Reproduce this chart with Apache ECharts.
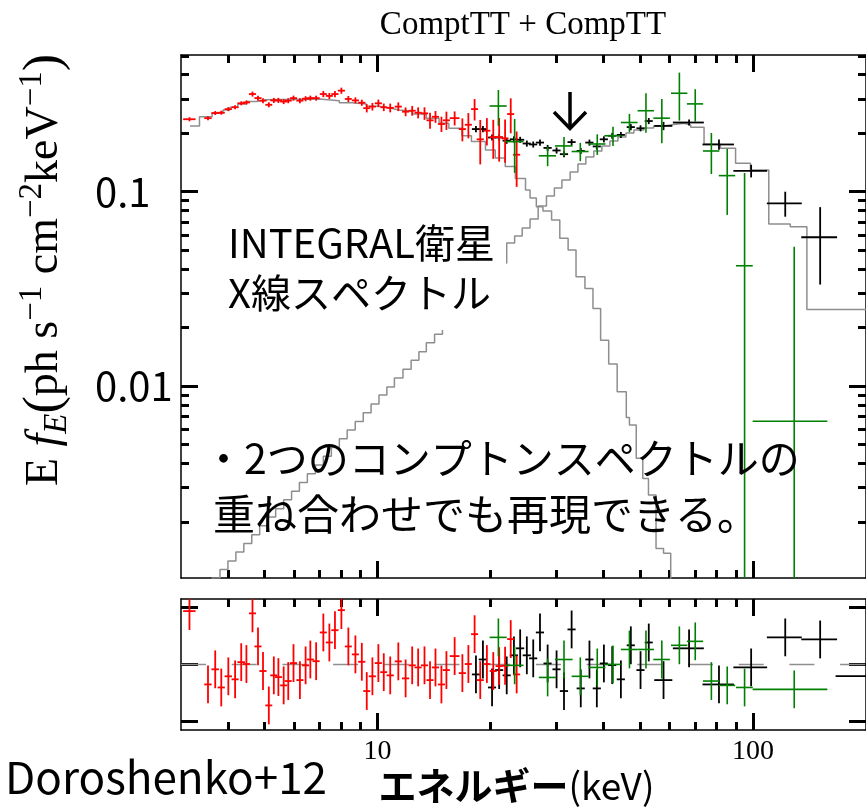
<!DOCTYPE html>
<html>
<head>
<meta charset="utf-8">
<script src="https://cdn.jsdelivr.net/npm/echarts@6/dist/echarts.min.js"></script>
<style>
  html, body { margin: 0; padding: 0; background: #fff; }
  #chart { width: 866px; height: 808px; }
</style>
</head>
<body>
<div id="chart"></div>
<script>
// ---- INTEGRAL spectrum: JEM-X (red), ISGRI (black), SPI (green) ----
// energy (keV), half bin width (keV), E f_E (ph s^-1 cm^-2 keV^-1), 1-sigma error, residual (sigma)
const jemxEnergy = [3.16,3.54,3.70,3.84,4.01,4.18,4.34,4.48,4.65,4.81,4.96,5.14,5.30,5.45,5.63,5.79,5.98,6.22,6.44,6.63,6.87,7.18,7.45,7.71,8.02,8.37,8.74,9.09,9.37,9.70,10.06,10.40,10.82,11.37,11.89,12.38,12.84,13.35,13.81,14.28,14.81,15.27,16.06,16.84,17.47,18.15,18.79,19.57,20.35,21.10,21.88,22.65,23.49];
const jemxHalfWidth = [0.12,0.08,0.085,0.085,0.09,0.09,0.1,0.1,0.1,0.105,0.11,0.11,0.115,0.12,0.12,0.125,0.13,0.135,0.14,0.145,0.15,0.155,0.16,0.17,0.175,0.18,0.19,0.2,0.2,0.21,0.22,0.22,0.24,0.25,0.26,0.27,0.28,0.29,0.3,0.31,0.32,0.33,0.48,0.37,0.38,0.39,0.41,0.42,0.44,0.46,0.47,0.49,0.51];
const jemxFlux = [0.236,0.239,0.254,0.255,0.266,0.272,0.285,0.288,0.318,0.303,0.294,0.280,0.295,0.295,0.291,0.294,0.303,0.294,0.301,0.303,0.303,0.318,0.311,0.318,0.331,0.300,0.295,0.287,0.269,0.274,0.285,0.272,0.270,0.274,0.258,0.261,0.255,0.253,0.233,0.243,0.223,0.233,0.239,0.210,0.221,0.266,0.186,0.206,0.191,0.191,0.188,0.251,0.155];
const jemxError = [0.0057,0.0057,0.006,0.006,0.0064,0.0065,0.0068,0.0069,0.0095,0.009,0.0088,0.0084,0.0089,0.0089,0.0087,0.0088,0.0091,0.0088,0.009,0.009,0.009,0.0115,0.0112,0.0115,0.012,0.0108,0.0106,0.0103,0.0132,0.0123,0.0128,0.0122,0.014,0.0142,0.0134,0.0149,0.0166,0.0187,0.0221,0.017,0.0201,0.0252,0.0198,0.0284,0.0329,0.0335,0.0478,0.033,0.0434,0.0482,0.047,0.0512,0.0491];
const jemxResidual = [2.82,-1.06,-0.26,-1.22,-0.63,-0.79,0.12,0.02,2.70,0.95,-0.35,-2.17,-0.58,-0.67,-1.11,-0.88,0.07,-0.83,-0.05,0.26,0.17,1.69,1.16,1.81,2.87,0.95,0.53,0.14,-1.41,-0.63,0.07,-0.41,-0.58,0.16,-0.74,-0.05,-0.16,-0.05,-0.83,-0.16,-1.06,-0.30,0.44,-0.46,0.02,1.60,-0.83,0.02,-0.35,-0.09,-0.07,1.34,-0.53];

const isgriEnergy = [18.3,19.1,20.2,21.1,22.1,23.1,24.0,25.0,26.0,27.1,28.4,30.0,31.4,32.9,34.8,36.7,38.4,40.1,42.2,44.5,47.3,50.2,52.8,57.8,67.6,81.2,98.9,121.9,151.0,202];
const isgriHalfWidth = [0.45,0.48,0.5,0.53,0.55,0.58,0.6,0.63,0.65,0.68,0.71,0.75,0.79,0.82,0.87,0.92,0.96,1.0,1.06,1.11,1.18,1.25,1.3,3.2,6.4,7.8,10.2,13,16.5,36];
const isgriFlux = [0.210,0.210,0.190,0.190,0.183,0.186,0.185,0.177,0.175,0.179,0.168,0.163,0.156,0.180,0.162,0.179,0.171,0.186,0.194,0.196,0.215,0.212,0.231,0.218,0.227,0.175,0.128,0.0872,0.0583,null];
const isgriError = [0.0076,0.0076,0.0068,0.0068,0.0066,0.0067,0.0066,0.0064,0.0063,0.0064,0.006,0.0059,0.0056,0.0065,0.0058,0.0064,0.0062,0.0067,0.007,0.007,0.0078,0.0076,0.0083,0.0107,0.0082,0.0107,0.0095,0.0128,0.025,null];
const isgriResidual = [-0.53,0.26,-1.22,-0.30,-0.58,0.48,0.85,0.48,0.32,1.69,0.05,-0.26,-1.41,1.85,-1.27,0.26,-1.27,0.05,-0.04,-0.79,1.01,-0.30,1.16,-0.83,0.85,-1.06,-0.16,1.43,1.32,-0.62];

const spiEnergy = [21.0,23.2,28.4,31.4,34.7,38.5,42.4,46.9,51.9,57.2,63.7,70.2,77.5,85.4,95.0,128.8];
const spiHalfWidth = [1.1,1.3,1.5,1.7,1.8,2.0,2.2,2.4,2.6,2.9,3.2,3.5,3.9,4.3,4.9,29];
const spiFlux = [0.276,0.181,0.153,0.172,0.161,0.176,0.194,0.227,0.261,0.239,0.321,0.283,0.162,0.121,0.0416,0.0066];
const spiError = [0.0577,0.0559,0.0177,0.0194,0.0174,0.0214,0.0219,0.0245,0.0599,0.0613,0.0889,0.0537,0.0386,0.045,0.0832,0.0455];
const spiResidual = [1.43,-0.05,-0.69,0.26,-0.63,-0.16,0.0,0.79,0.79,0.26,1.01,1.22,-0.88,-1.11,-1.22,-1.32];

// residuals are in units of sigma (delchi), so each bar spans +-1
const residualSigma = 1;

// ---- model components (binned, drawn as steps) ----
const lowCompEnergy = [3.17,3.36,3.63,3.88,4.05,4.25,4.49,4.77,5.04,7.01,7.92,8.57,9.34,10.1,10.9,11.4,12.4,13.5,14.6,15.5,16.8,17.8,19.4,20.6,21.9,23.3,24.8,25.5,26.5,27.6,29.1,30.6,32.2,33.8,35.7,37.5,39.3,41.3,43.5,46.0,46.9,48.9,50.9,52.7,55.2,57.8,60.4,62];
const lowCompFlux = [0.218,0.243,0.253,0.263,0.272,0.283,0.291,0.297,0.300,0.294,0.287,0.283,0.275,0.269,0.263,0.260,0.251,0.239,0.225,0.212,0.194,0.181,0.164,0.149,0.135,0.117,0.102,0.0928,0.0837,0.0796,0.0715,0.0576,0.0501,0.0365,0.0318,0.0251,0.0172,0.0130,0.00935,0.0069,0.0063,0.00425,0.00335,0.00275,0.00146,0.00138,0.0008,0.0008];

const highCompEnergy = [3.44,3.63,3.81,4.00,4.20,4.41,4.63,4.86,5.10,5.36,5.63,5.91,6.20,6.51,6.84,7.18,7.54,7.92,8.31,8.73,9.17,9.62,10.1,10.6,11.1,11.7,12.3,12.9,13.5,14.2,14.9,16.5,18.2,20.0,22.1,23.2,24.3,25.5,26.8,28.2,29.6,31.0,32.6,34.2,35.9,37.7,39.6,41.6,43.7,45.9,48.2,51.2,54.4,57.8,61.5,65.7,68.3,74.1,81.9,89.9,98.5,110.2,125.7,139.2,201];
const highCompFlux = [0.00093,0.00103,0.00114,0.00126,0.00140,0.00155,0.00172,0.00191,0.00212,0.00234,0.00260,0.00288,0.00319,0.00354,0.00393,0.00436,0.00483,0.00536,0.00594,0.00658,0.0073,0.0081,0.0090,0.0099,0.0110,0.0122,0.0136,0.0150,0.0167,0.0185,0.0205,0.0261,0.0335,0.0430,0.0545,0.0592,0.0651,0.0724,0.0844,0.0950,0.1045,0.1149,0.1263,0.1389,0.1509,0.1620,0.1718,0.1824,0.1912,0.2005,0.2077,0.2127,0.2179,0.2218,0.2249,0.2204,0.2145,0.1754,0.1673,0.1400,0.1293,0.0682,0.0660,0.0248,0.0248];

// ---- axes ----
const energyMin = 3, energyMax = 200;
const fluxMin = 0.00103, fluxMax = 0.505;
const residualMin = -3.47, residualMax = 3.46;
const energyMajorTicks = [10, 100];
const energyMinorTicks = [4,5,6,7,8,9,20,30,40,50,60,70,80,90];
const fluxMajorTicks = [0.01, 0.1];
const fluxMinorTicks = [0.002,0.003,0.004,0.005,0.006,0.007,0.008,0.009,0.02,0.03,0.04,0.05,0.06,0.07,0.08,0.09,0.2,0.3,0.4,0.5];
const residualTicks = [-3, 0, 3];

const SERIF = '"Liberation Serif", "DejaVu Serif", serif';
const SANS = '"Noto Sans CJK JP", "Noto Sans", sans-serif';
const MODEL_GRAY = '#8e8e8e';

// frame lines stay on the panel edges (never moved to the zero of the other axis)
const spine = { show: true, onZero: false, lineStyle: { color: '#000', width: 1.5 } };
const noSpine = { show: false, onZero: false };
const tickStyle = { color: '#000', width: 3 };

function axisBase(gridIndex, position, ticks, len) {
  return {
    gridIndex, position,
    axisLine: noSpine,
    splitLine: { show: false },
    axisLabel: { show: false },
    axisTick: { show: true, inside: true, length: len, customValues: ticks, lineStyle: tickStyle }
  };
}
function energyAxis(gridIndex, position, ticks, len, extra) {
  return Object.assign(axisBase(gridIndex, position, ticks, len),
    { type: 'log', logBase: 10, min: energyMin, max: energyMax }, extra || {});
}
function fluxAxis(position, ticks, len, extra) {
  return Object.assign(axisBase(0, position, ticks, len),
    { type: 'log', logBase: 10, min: fluxMin, max: fluxMax }, extra || {});
}
function residualAxis(position, extra) {
  return Object.assign(axisBase(1, position, residualTicks, 17),
    { type: 'value', min: residualMin, max: residualMax }, extra || {});
}

const xAxes = [
  energyAxis(0, 'bottom', energyMajorTicks, 17, { axisLine: spine }),
  energyAxis(0, 'bottom', energyMinorTicks, 8),
  energyAxis(0, 'top', energyMajorTicks, 17, { axisLine: spine }),
  energyAxis(0, 'top', energyMinorTicks, 8),
  energyAxis(1, 'bottom', energyMajorTicks, 17, {
    axisLine: spine,
    axisLabel: { show: true, customValues: energyMajorTicks, margin: 8,
                 fontFamily: SERIF, fontSize: 28, color: '#000' },
    name: '{b|エネルギー}{n|(keV)}',
    nameLocation: 'middle',
    nameGap: 36,
    nameTextStyle: {
      padding: [0, 14, 0, 0],
      rich: {
        b: { fontFamily: SANS, fontWeight: 'bold', fontSize: 38, color: '#000' },
        n: { fontFamily: SANS, fontSize: 37, color: '#000' }
      }
    }
  }),
  energyAxis(1, 'bottom', energyMinorTicks, 8),
  energyAxis(1, 'top', energyMajorTicks, 17, { axisLine: spine }),
  energyAxis(1, 'top', energyMinorTicks, 8)
];

const yAxes = [
  fluxAxis('left', fluxMajorTicks, 17, {
    axisLine: spine,
    axisLabel: { show: true, customValues: fluxMajorTicks, align: 'left', margin: 86,
                 fontFamily: SANS, fontSize: 40, color: '#000' }
  }),
  fluxAxis('left', fluxMinorTicks, 8),
  fluxAxis('right', fluxMajorTicks, 17, { axisLine: spine }),
  fluxAxis('right', fluxMinorTicks, 8),
  residualAxis('left', { axisLine: spine }),
  residualAxis('right', { axisLine: spine })
];

// ---- data crosses: horizontal bar = energy bin, vertical bar = error ----
function crossRenderer(color, width, logY) {
  return function (params, api) {
    const e = api.value(0), de = api.value(1), v = api.value(2), err = api.value(3);
    if (isNaN(e) || isNaN(v)) return null;
    const cs = params.coordSys;
    const top = cs.y, bottom = cs.y + cs.height;
    const clampY = y => Math.max(top, Math.min(bottom, y));
    const c = api.coord([e, v]);
    const xl = api.coord([e - de, v])[0];
    const xr = api.coord([e + de, v])[0];
    const yHi = api.coord([e, v + err])[1];
    const lowVal = v - err;
    const yLo = (logY && lowVal <= 0) ? bottom : api.coord([e, lowVal])[1];
    const style = { stroke: color, lineWidth: width };
    const children = [];
    if (c[1] >= top && c[1] <= bottom) {
      children.push({ type: 'line', shape: { x1: xl, y1: c[1], x2: xr, y2: c[1] }, style });
    }
    children.push({ type: 'line', shape: { x1: c[0], y1: clampY(yHi), x2: c[0], y2: clampY(yLo) }, style });
    return { type: 'group', children };
  };
}

function spectrumSeries(name, energy, halfWidth, flux, error, color, width) {
  return {
    name, type: 'custom', xAxisIndex: 0, yAxisIndex: 0, encode: { x: 0, y: 2 },
    renderItem: crossRenderer(color, width, true),
    data: energy.map((e, i) => [e, halfWidth[i], flux[i] == null ? NaN : flux[i], error[i] == null ? NaN : error[i]]),
    z: 3
  };
}
function residualSeries(name, energy, halfWidth, residual, color, width) {
  return {
    name, type: 'custom', xAxisIndex: 4, yAxisIndex: 4, encode: { x: 0, y: 2 },
    renderItem: crossRenderer(color, width, false),
    data: energy.map((e, i) => [e, halfWidth[i], residual[i], residualSigma]),
    z: 3
  };
}
function modelSeries(name, energy, flux) {
  return {
    name, type: 'line', step: 'end', xAxisIndex: 0, yAxisIndex: 0,
    showSymbol: false, symbol: 'none', clip: true,
    lineStyle: { color: MODEL_GRAY, width: 1.5 },
    data: energy.map((e, i) => [e, flux[i]]),
    z: 2
  };
}

const RED = '#ff0000', BLACK = '#000000', GREEN = '#008000';

// dashed zero-residual reference line across the lower panel
const zeroLine = {
  name: 'zero', type: 'custom', xAxisIndex: 4, yAxisIndex: 4, encode: { x: 0, y: 1 },
  data: [[energyMin, 0, energyMax]],
  renderItem(params, api) {
    const a = api.coord([api.value(0), api.value(1)]);
    const b = api.coord([api.value(2), api.value(1)]);
    return {
      type: 'line',
      shape: { x1: a[0], y1: a[1], x2: b[0], y2: b[1] },
      style: { stroke: MODEL_GRAY, lineWidth: 1.5, lineDash: [25, 25.7] }
    };
  },
  z: 2
};

const option = {
  animation: false,
  backgroundColor: '#ffffff',
  grid: [
    { left: 181, top: 55, width: 688, height: 523 },
    { left: 181, top: 599, width: 688, height: 131 }
  ],
  xAxis: xAxes,
  yAxis: yAxes,
  series: [
    modelSeries('CompTT (low)', lowCompEnergy, lowCompFlux),
    modelSeries('CompTT (high)', highCompEnergy, highCompFlux),
    spectrumSeries('ISGRI', isgriEnergy, isgriHalfWidth, isgriFlux, isgriError, BLACK, 1.8),
    spectrumSeries('JEM-X', jemxEnergy, jemxHalfWidth, jemxFlux, jemxError, RED, 1.8),
    spectrumSeries('SPI', spiEnergy, spiHalfWidth, spiFlux, spiError, GREEN, 1.6),
    zeroLine,
    residualSeries('ISGRI residual', isgriEnergy, isgriHalfWidth, isgriResidual, BLACK, 1.8),
    residualSeries('JEM-X residual', jemxEnergy, jemxHalfWidth, jemxResidual, RED, 1.8),
    residualSeries('SPI residual', spiEnergy, spiHalfWidth, spiResidual, GREEN, 1.6)
  ],
  graphic: [
    {
      type: 'text', x: 523, y: 25, z: 50,
      style: { text: 'ComptTT + CompTT', fontFamily: SERIF, fontSize: 33, fill: '#000',
               align: 'center', verticalAlign: 'middle' }
    },
    {
      type: 'text', x: 45, y: 270, rotation: Math.PI / 2, z: 50,
      style: {
        text: '{n|E }{i|f}{sub|E}{p|(}{n|ph s}{sup|−1}{n| cm}{sup|−2}{n|keV}{sup|−1}{p|)}',
        align: 'center', verticalAlign: 'middle', fill: '#000',
        rich: {
          n: { fontFamily: SERIF, fontSize: 46, lineHeight: 58, fill: '#000' },
          i: { fontFamily: SERIF, fontStyle: 'italic', fontSize: 46, lineHeight: 58, fill: '#000' },
          sub: { fontFamily: SERIF, fontStyle: 'italic', fontSize: 33, lineHeight: 36, verticalAlign: 'bottom', fill: '#000' },
          sup: { fontFamily: SERIF, fontSize: 33, lineHeight: 34, verticalAlign: 'top', fill: '#000' },
          p: { fontFamily: SERIF, fontSize: 52, lineHeight: 58, fill: '#000' }
        }
      }
    },
    {
      type: 'rect', z: 40,
      shape: { x: 218, y: 213, width: 288, height: 117 },
      style: { fill: '#ffffff' }
    },
    {
      type: 'text', x: 228, y: 218, z: 50,
      style: { text: 'INTEGRAL衛星\nX線スペクトル', fontFamily: SANS, fontSize: 40,
               lineHeight: 50, fill: '#000', verticalAlign: 'top' }
    },
    {
      type: 'text', x: 203, y: 458, z: 50,
      style: { text: '・2つのコンプトンスペクトルの', fontFamily: SANS, fontSize: 41,
               fill: '#000', verticalAlign: 'middle' }
    },
    {
      type: 'text', x: 213, y: 514, z: 50,
      style: { text: '重ね合わせでも再現できる。', fontFamily: SANS, fontSize: 42,
               fill: '#000', verticalAlign: 'middle' }
    },
    {
      type: 'text', x: 5, y: 777, z: 50,
      style: { text: 'Doroshenko+12', fontFamily: SANS, fontSize: 44, fill: '#000',
               verticalAlign: 'middle' }
    },
    {
      type: 'group', z: 50,
      children: [
        { type: 'line', shape: { x1: 570, y1: 92, x2: 570, y2: 128 },
          style: { stroke: '#000', lineWidth: 3.5 } },
        { type: 'polyline', shape: { points: [[554, 112], [570, 128.5], [586, 112]] },
          style: { stroke: '#000', lineWidth: 3.5, fill: null, lineJoin: 'miter' } }
      ]
    }
  ]
};

const chart = echarts.init(document.getElementById('chart'), null, { renderer: 'canvas' });
chart.setOption(option);
</script>
</body>
</html>
